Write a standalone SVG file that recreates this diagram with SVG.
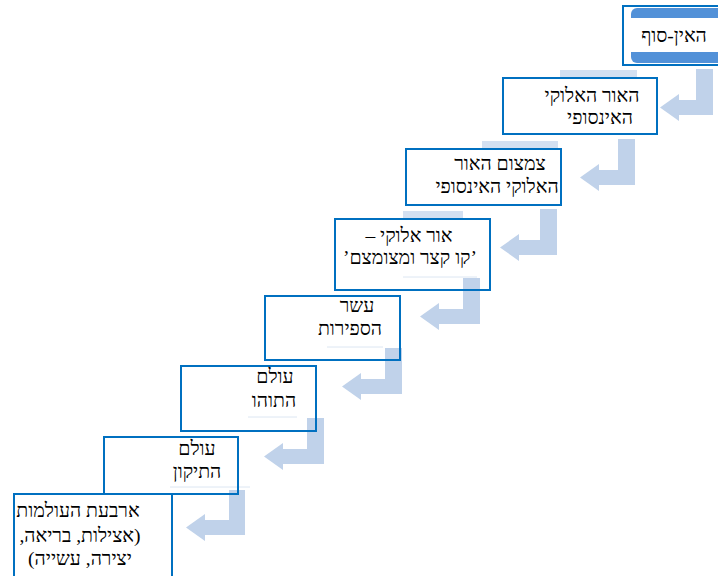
<svg xmlns="http://www.w3.org/2000/svg" width="718" height="576" viewBox="0 0 718 576">
<style>
.bg{fill:#ffffff}
.box{fill:none;stroke:#0070C0;stroke-width:2}
.arrow{fill:#C0D2EA}
.sliver{fill:#D3E0F1}
.faint{stroke:#DCE6F2;stroke-width:1}
.t{font-family:"Liberation Serif","DejaVu Sans",serif;font-size:19.5px;fill:#000;text-anchor:middle;direction:rtl;unicode-bidi:embed}
</style>
<rect class="bg" x="0" y="0" width="718" height="576"/>
<g id="connectors">
<path class="arrow" d="M660,107.5 L679,94 L679,100 L696,100 L696,69 L713,69 L713,115 L679,115 L679,121 Z"/>
<path class="arrow" d="M580,177.5 L599,164 L599,170 L618,170 L618,139 L635,139 L635,185 L599,185 L599,191 Z"/>
<path class="arrow" d="M500,247.5 L519,234 L519,240 L540,240 L540,209 L557,209 L557,255 L519,255 L519,261 Z"/>
<path class="arrow" d="M420,316.5 L439,303 L439,309 L463,309 L463,278 L480,278 L480,324 L439,324 L439,330 Z"/>
<path class="arrow" d="M342,386.5 L361,373 L361,379 L385,379 L385,348 L402,348 L402,394 L361,394 L361,400 Z"/>
<path class="arrow" d="M264,456.5 L283,443 L283,449 L307,449 L307,418 L324,418 L324,464 L283,464 L283,470 Z"/>
<path class="arrow" d="M186,527.5 L205,514 L205,520 L229,520 L229,490 L245,490 L245,535 L205,535 L205,541 Z"/>
</g>
<g id="node1">
<rect x="631" y="8" width="95" height="55" rx="6" fill="#5291D8"/>
<rect x="631" y="18" width="95" height="34" fill="#ffffff"/>
<rect class="box" x="623" y="6" width="105" height="59"/>
<text class="t" x="674" y="42">האין-סוף</text>
</g>
<g id="node2">
<rect class="sliver" x="560" y="70" width="77" height="8"/>
<rect class="box" x="503" y="78" width="154" height="56"/>
<text class="t" x="592" y="102">האור האלוקי</text>
<text class="t" x="600" y="124">האינסופי</text>
</g>
<g id="node3">
<rect class="sliver" x="482" y="141" width="76" height="8"/>
<rect class="box" x="406" y="149" width="155" height="56"/>
<text class="t" x="500" y="170">צמצום האור</text>
<text class="t" x="497" y="193">האלוקי האינסופי</text>
</g>
<g id="node4">
<rect class="sliver" x="403" y="211" width="60" height="8"/>
<line class="faint" x1="403" y1="277" x2="477" y2="277"/>
<rect class="box" x="335" y="219" width="155" height="71"/>
<text class="t" x="409" y="242">אור אלוקי –</text>
<text class="t" x="410" y="264">’קו קצר ומצומצם’</text>
</g>
<g id="node5">
<line class="faint" x1="327" y1="347" x2="383" y2="347"/>
<rect class="box" x="265" y="296" width="135" height="64"/>
<text class="t" x="357" y="312">עשר</text>
<text class="t" x="350" y="335">הספירות</text>
</g>
<g id="node6">
<line class="faint" x1="248" y1="417" x2="297" y2="417"/>
<rect class="box" x="181" y="366" width="135" height="65"/>
<text class="t" x="275" y="383">עולם</text>
<text class="t" x="274" y="407">התוהו</text>
</g>
<g id="node7">
<line class="faint" x1="170" y1="487" x2="250" y2="487"/>
<rect class="box" x="104" y="437" width="134" height="57"/>
<text class="t" x="197" y="455">עולם</text>
<text class="t" x="197" y="478">התיקון</text>
</g>
<g id="node8">
<rect class="box" x="14" y="494" width="158" height="90"/>
<text class="t" x="78" y="517">ארבעת העולמות</text>
<text class="t" x="80" y="542">(אצילות, בריאה,</text>
<text class="t" x="80" y="565">יצירה, עשייה)</text>
</g>
</svg>
